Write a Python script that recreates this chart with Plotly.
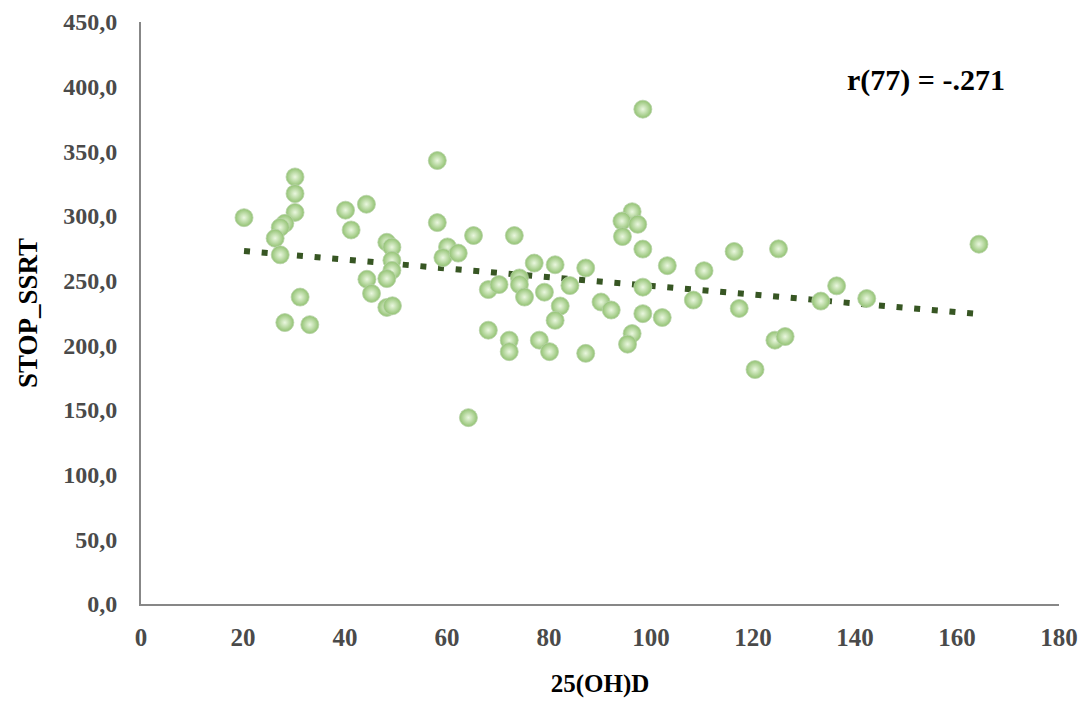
import numpy as np
import plotly.graph_objects as go

# 25(OH)D values (x) and STOP_SSRT values (y)
vitd = [20.2, 30.2, 30.2, 30.2, 28.2, 27.3, 26.3, 27.3, 31.2, 28.2,
        33.1, 40.1, 44.2, 41.2, 58.1, 58.1, 48.2, 49.2, 49.2, 49.2,
        48.2, 44.3, 45.2, 48.2, 49.3, 60.1, 59.2, 62.2, 65.2, 73.2,
        68.1, 70.2, 74.2, 74.2, 75.2, 77.1, 81.2, 79.1, 84.1, 87.2,
        82.2, 81.2, 90.2, 92.2, 68.1, 72.2, 72.2, 78.1, 80.1, 87.2,
        64.2, 96.3, 94.3, 97.4, 94.4, 98.4, 103.2, 98.4, 98.4, 102.2,
        96.3, 95.4, 98.4, 116.3, 125.0, 110.4, 108.3, 117.3, 136.4, 133.3,
        142.3, 124.3, 126.3, 120.4, 164.3]
ssrt = [298.7, 330.2, 317.3, 302.8, 294.3, 291.2, 282.8, 270.0, 237.3, 217.6,
        216.0, 304.5, 309.1, 289.2, 342.9, 294.9, 279.7, 275.9, 265.7, 258.0,
        251.6, 251.1, 240.1, 229.3, 230.6, 276.1, 267.8, 271.3, 284.9, 284.9,
        243.1, 247.0, 252.1, 247.0, 237.3, 263.6, 262.3, 241.1, 246.2, 259.8,
        230.4, 219.3, 233.5, 227.3, 211.7, 204.0, 195.1, 204.0, 195.1, 193.8,
        144.1, 303.3, 296.1, 293.6, 284.1, 274.4, 261.6, 245.0, 224.5, 221.5,
        209.1, 200.9, 382.6, 272.6, 274.6, 257.7, 235.0, 228.5, 246.0, 234.2,
        236.2, 204.0, 206.8, 181.3, 278.2]

x_ticks = [0, 20, 40, 60, 80, 100, 120, 140, 160, 180]
x_tick_text = ["0", "20", "40", "60", "80", "100", "120", "140", "160", "180"]
y_ticks = [0, 50, 100, 150, 200, 250, 300, 350, 400, 450]
y_tick_text = ["0,0", "50,0", "100,0", "150,0", "200,0", "250,0", "300,0", "350,0", "400,0", "450,0"]
annotation_text = "r(77) = -.271"

SERIF = "Liberation Serif, Times New Roman, serif"

# Linear trend line fitted to the data
slope, intercept = np.polyfit(vitd, ssrt, 1)
trend_x = [min(vitd), max(vitd)]
trend_y = [slope * v + intercept for v in trend_x]

fig = go.Figure()
fig.add_trace(go.Scatter(
    x=trend_x, y=trend_y, mode="lines",
    line=dict(color="#375623", width=6, dash="6px,11.7px"),
    hoverinfo="skip", showlegend=False,
))
fig.add_trace(go.Scatter(
    x=vitd, y=ssrt, mode="markers",
    marker=dict(size=18, color="#92c272",
                gradient=dict(type="radial", color="#eaf7df"),
                line=dict(color="#b8d2a8", width=0.8)),
    showlegend=False,
))

# page has an 8px body margin; figure sized so the page fits 1087x706
W, H = 1071, 690
L, R, T, B = 133, 20, 14, 94

fig.update_layout(
    width=W, height=H,
    margin=dict(l=L, r=R, t=T, b=B),
    paper_bgcolor="white", plot_bgcolor="white",
    font=dict(family=SERIF, color="#000000"),
    xaxis=dict(
        range=[0, 180], tickvals=x_ticks, ticktext=x_tick_text,
        showgrid=False, zeroline=False, automargin=False,
        showline=True, linecolor="#878787", linewidth=2,
        ticks="", ticklabelstandoff=10, ticklabeloverflow="allow",
        tickfont=dict(family=SERIF, size=25, color="#4a4a4a", weight="bold"),
        title=dict(text="<b>25(OH)D</b>", font=dict(family=SERIF, size=25, color="#000000"),
                   standoff=36),
    ),
    yaxis=dict(
        range=[0, 450], tickvals=y_ticks, ticktext=y_tick_text,
        showgrid=False, zeroline=False, automargin=False,
        showline=True, linecolor="#878787", linewidth=2,
        ticks="", ticklabelstandoff=17, ticklabeloverflow="allow",
        tickfont=dict(family=SERIF, size=24, color="#4a4a4a", weight="bold"),
        title=dict(text="<b>STOP_SSRT</b>", font=dict(family=SERIF, size=27, color="#000000"),
                   standoff=18),
    ),
)
plot_w = W - L - R
plot_h = H - T - B
fig.add_annotation(
    x=(926 - 8 - L) / plot_w, y=(H - B - (80 - 8)) / plot_h,
    xref="paper", yref="paper", xanchor="center", yanchor="middle",
    text="<b>" + annotation_text + "</b>", showarrow=False,
    font=dict(family=SERIF, size=30, color="#000000"),
)

fig.write_html("out.html")
